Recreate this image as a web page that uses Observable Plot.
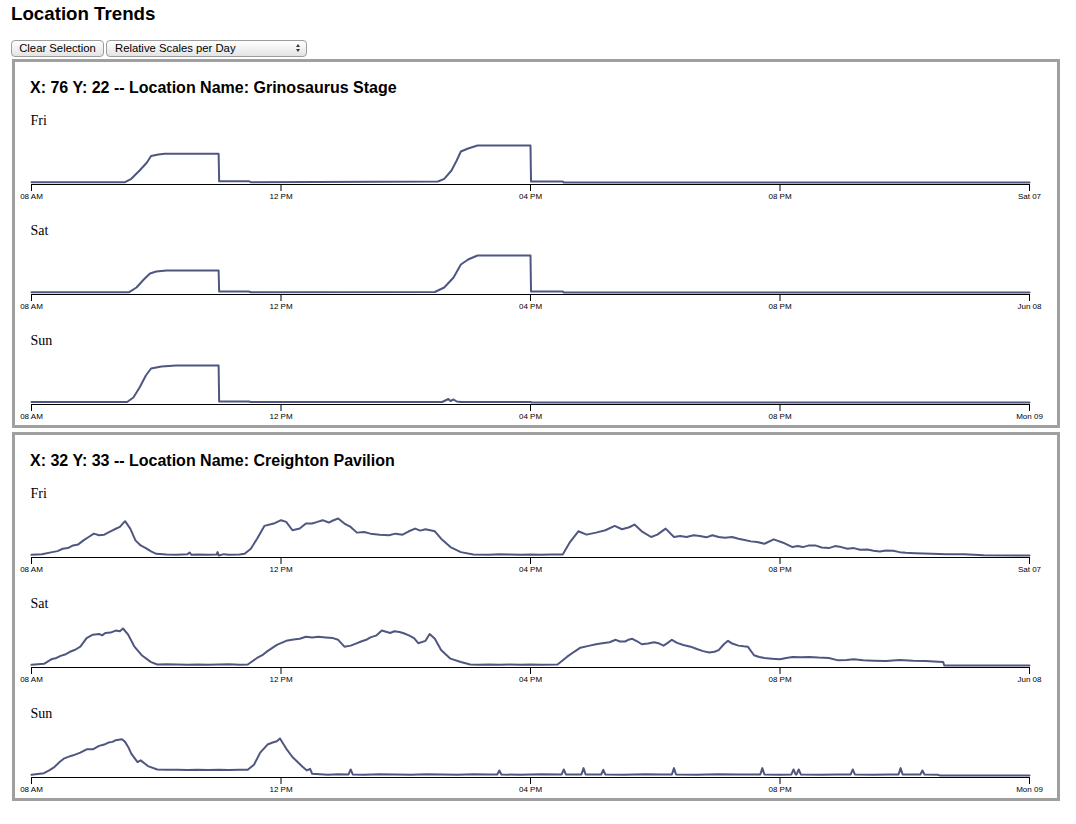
<!DOCTYPE html>
<html>
<head>
<meta charset="utf-8">
<script src="https://cdn.jsdelivr.net/npm/d3@7"></script>
<script src="https://cdn.jsdelivr.net/npm/@observablehq/plot@0.6"></script>
<style>
  body { margin: 0; background: #fff; font-family: "Liberation Sans", Arial, sans-serif; color: #000; }
  #title { position: absolute; left: 11px; top: 4px; line-height: 20px; font-size: 18.72px; font-weight: bold; }
  .ctl { position: absolute; top: 40px; height: 17px; box-sizing: border-box; border: 1px solid #9c9c9c;
         border-radius: 4px; background: linear-gradient(#ffffff, #e4e4e4); font: 11.3px "Liberation Sans", Arial, sans-serif;
         line-height: 15px; color: #000; padding: 0; margin: 0; }
  #clear { left: 11px; width: 93px; text-align: center; }
  #scale { left: 106px; width: 201px; padding-left: 8px; }
  .arr { position: absolute; right: 6px; width: 0; height: 0; border-left: 2.5px solid transparent; border-right: 2.5px solid transparent; }
  .arr.up { top: 3px; border-bottom: 3px solid #333; }
  .arr.dn { top: 8px; border-top: 3px solid #333; }
  .panel { position: absolute; left: 12px; width: 1042px; height: 363px; border: 3px solid #a0a0a0; }
  .head { position: absolute; left: 15px; top: 16px; line-height: 20px; font-size: 16px; font-weight: bold; white-space: nowrap; }
  .day { position: absolute; left: 0; width: 1042px; height: 110px; }
  .lab { position: absolute; left: 15.5px; top: 2px; line-height: 18px; font: 14px "Liberation Serif", "Times New Roman", serif; }
  .plot { position: absolute; left: 0; top: 20px; }
  .plot svg { overflow: visible; display: block; }
</style>
</head>
<body>
<div id="title">Location Trends</div>
<div class="ctl" id="clear">Clear Selection</div>
<div class="ctl" id="scale">Relative Scales per Day<span class="arr up"></span><span class="arr dn"></span></div>
<div id="root"></div>
<script>
// ---- labels ----
const days = ["Fri", "Sat", "Sun"];
const hourLabels = ["08 AM", "12 PM", "04 PM", "08 PM"];
const endLabels = ["Sat 07", "Jun 08", "Mon 09"];
const tickHours = [8, 12, 16, 20, 24];
const locationNames = ["X: 76 Y: 22 -- Location Name: Grinosaurus Stage", "X: 32 Y: 33 -- Location Name: Creighton Pavilion"];

// ---- series: [minutes after 08 AM, count] ----
const grFri = [[0,3],[90,3],[96,37],[104,120],[111,200],[115,265],[122,280],[128,287],[180,287],[180.5,13],[209,13],[211,3],[391,10],[397,37],[404,120],[409,220],[413,310],[420,340],[429,370],[480,370],[480.5,10],[511,10],[512,0],[960,0]];
const grSat = [[0,3],[94,3],[101,50],[108,130],[114,190],[120,210],[130,220],[180,220],[180.5,10],[209,10],[211,3],[388,5],[397,50],[406,150],[413,280],[420,330],[429,370],[480,370],[480.5,10],[511,10],[512,0],[960,0]];
const grSun = [[0,5],[92,5],[98,50],[104,150],[110,270],[115,340],[125,360],[139,370],[180,370],[180.5,10],[209,10],[211,5],[395,5],[398,20],[401,35],[403,15],[406,30],[409,10],[413,5],[480,5],[481,0],[960,0]];

const crFri = [[0,2],[10,4],[20,10],[25,13],[30,20],[35,22],[40,30],[45,33],[50,45],[55,55],[60,65],[65,60],[70,62],[75,70],[80,78],[85,85],[90,102],[95,80],[100,45],[105,30],[110,22],[115,12],[120,5],[130,3],[140,2],[150,4],[152,9],[154,2],[160,3],[170,2],[178,3],[179,10],[180,0],[185,4],[190,2],[200,3],[205,5],[211,20],[217,50],[224,88],[233,95],[240,105],[245,100],[251,75],[258,80],[264,95],[270,95],[275,100],[280,105],[286,98],[290,104],[295,110],[301,95],[307,85],[313,68],[320,70],[326,65],[335,62],[344,60],[350,65],[357,62],[363,72],[369,80],[374,74],[379,78],[388,72],[394,50],[403,25],[413,10],[425,3],[440,2],[450,4],[460,3],[470,2],[480,3],[490,2],[500,3],[511,3],[518,40],[526,72],[534,62],[543,68],[552,75],[561,88],[568,78],[575,84],[580,92],[587,72],[596,55],[602,62],[610,80],[618,55],[624,58],[630,55],[637,60],[643,58],[649,54],[655,60],[661,55],[667,53],[674,55],[680,50],[686,46],[692,42],[698,40],[705,35],[714,48],[723,38],[732,25],[737,28],[742,25],[748,30],[754,30],[760,24],[767,22],[773,28],[779,25],[785,20],[791,22],[797,17],[804,18],[810,14],[816,12],[822,15],[829,14],[835,10],[841,8],[850,7],[866,5],[880,4],[897,4],[916,1],[960,0]];
const crSat = [[0,2],[12,5],[19,18],[24,22],[28,28],[33,33],[37,40],[42,46],[47,55],[53,80],[59,90],[65,92],[68,88],[71,95],[76,96],[81,102],[85,100],[88,108],[93,90],[99,55],[106,30],[115,10],[121,3],[130,4],[140,3],[150,2],[160,3],[170,2],[180,3],[190,4],[200,2],[208,3],[217,22],[222,30],[227,42],[236,60],[245,72],[252,76],[258,78],[264,84],[270,82],[276,84],[283,82],[290,80],[295,75],[301,55],[307,58],[312,64],[317,70],[322,75],[326,82],[332,88],[337,102],[345,95],[349,100],[354,98],[358,94],[363,88],[368,80],[372,65],[379,72],[383,92],[388,78],[394,45],[403,20],[413,10],[422,3],[430,2],[440,3],[450,2],[460,3],[470,2],[480,3],[490,2],[506,3],[515,25],[522,40],[528,52],[537,58],[543,62],[549,65],[556,68],[562,75],[566,70],[571,70],[575,76],[578,78],[583,70],[587,62],[593,64],[599,68],[604,64],[608,58],[612,66],[616,75],[621,66],[627,60],[634,55],[640,48],[646,42],[652,38],[657,40],[661,45],[666,62],[670,72],[674,64],[680,58],[685,56],[689,55],[695,30],[700,25],[705,22],[712,20],[720,18],[726,22],[732,25],[740,24],[748,25],[757,23],[767,22],[776,15],[784,16],[791,18],[800,15],[810,14],[822,13],[835,16],[848,14],[860,13],[868,12],[877,10],[878,0],[960,0]];
const crSun = [[0,2],[12,7],[17,15],[22,25],[27,40],[31,50],[36,56],[40,60],[47,68],[53,78],[59,78],[65,88],[70,92],[74,98],[78,100],[81,105],[87,108],[90,100],[93,85],[96,65],[102,40],[105,45],[112,28],[121,18],[130,17],[140,17],[150,16],[160,17],[170,16],[180,17],[190,16],[200,17],[208,17],[214,32],[220,68],[227,92],[232,98],[236,102],[239,110],[242,95],[245,80],[251,55],[256,40],[261,25],[265,15],[268,20],[270,5],[285,2],[295,4],[305,3],[307,18],[309,3],[320,2],[335,4],[350,3],[365,2],[380,4],[395,3],[410,2],[425,4],[440,3],[448,3],[450,15],[452,3],[470,2],[490,4],[510,3],[512,18],[514,3],[529,3],[531,22],[533,3],[548,3],[550,17],[552,3],[570,2],[590,4],[605,3],[616,3],[618,22],[620,3],[640,2],[660,4],[680,3],[701,3],[703,22],[705,3],[720,2],[731,3],[733,18],[735,3],[736,3],[738,18],[740,3],[760,2],[775,3],[788,3],[790,18],[792,3],[810,2],[825,3],[834,3],[836,22],[838,3],[855,3],[857,15],[859,3],[872,2],[874,0],[960,0]];

const locations = [[grFri, grSat, grSun], [crFri, crSat, crSun]];

const lineColor = "#4f5781";

function dayChart(series, dayIndex) {
  const ticks = tickHours.map(h => new Date(2014, 5, 6 + dayIndex, h, 0, 0));
  const labels = [...hourLabels, endLabels[dayIndex]];
  const fmt = new Map(ticks.map((d, i) => [+d, labels[i]]));
  const data = series.map(([t, v]) => ({date: new Date(2014, 5, 6 + dayIndex, 8, 0, Math.round(t * 60)), value: v}));
  return Plot.plot({
    width: 1042,
    height: 72,
    marginLeft: 16,
    marginRight: 28,
    marginTop: 14,
    marginBottom: 19,
    style: {background: "transparent", fontFamily: "'Liberation Sans', Arial, sans-serif", color: "#000"},
    x: {type: "time", domain: [ticks[0], ticks[4]]},
    y: {domain: [0, d3.max(data, d => d.value)], insetBottom: 2, axis: null},
    marks: [
      Plot.line(data, {x: "date", y: "value", stroke: lineColor, strokeWidth: 2}),
      Plot.ruleY([0], {dy: 2, stroke: "#000", strokeWidth: 1}),
      Plot.axisX({ticks, tickFormat: d => fmt.get(+d), tickSize: 7, tickPadding: 2, fontSize: 8, label: null})
    ]
  });
}

const root = document.getElementById("root");
locations.forEach((loc, li) => {
  const panel = document.createElement("div");
  panel.className = "panel";
  panel.style.top = (li === 0 ? 59 : 432) + "px";
  const head = document.createElement("div");
  head.className = "head";
  head.textContent = locationNames[li];
  panel.appendChild(head);
  loc.forEach((series, di) => {
    const day = document.createElement("div");
    day.className = "day";
    day.style.top = (49 + di * 110) + "px";
    const lab = document.createElement("div");
    lab.className = "lab";
    lab.textContent = days[di];
    day.appendChild(lab);
    const p = document.createElement("div");
    p.className = "plot";
    p.appendChild(dayChart(series, di));
    day.appendChild(p);
    panel.appendChild(day);
  });
  root.appendChild(panel);
});
</script>
</body>
</html>
